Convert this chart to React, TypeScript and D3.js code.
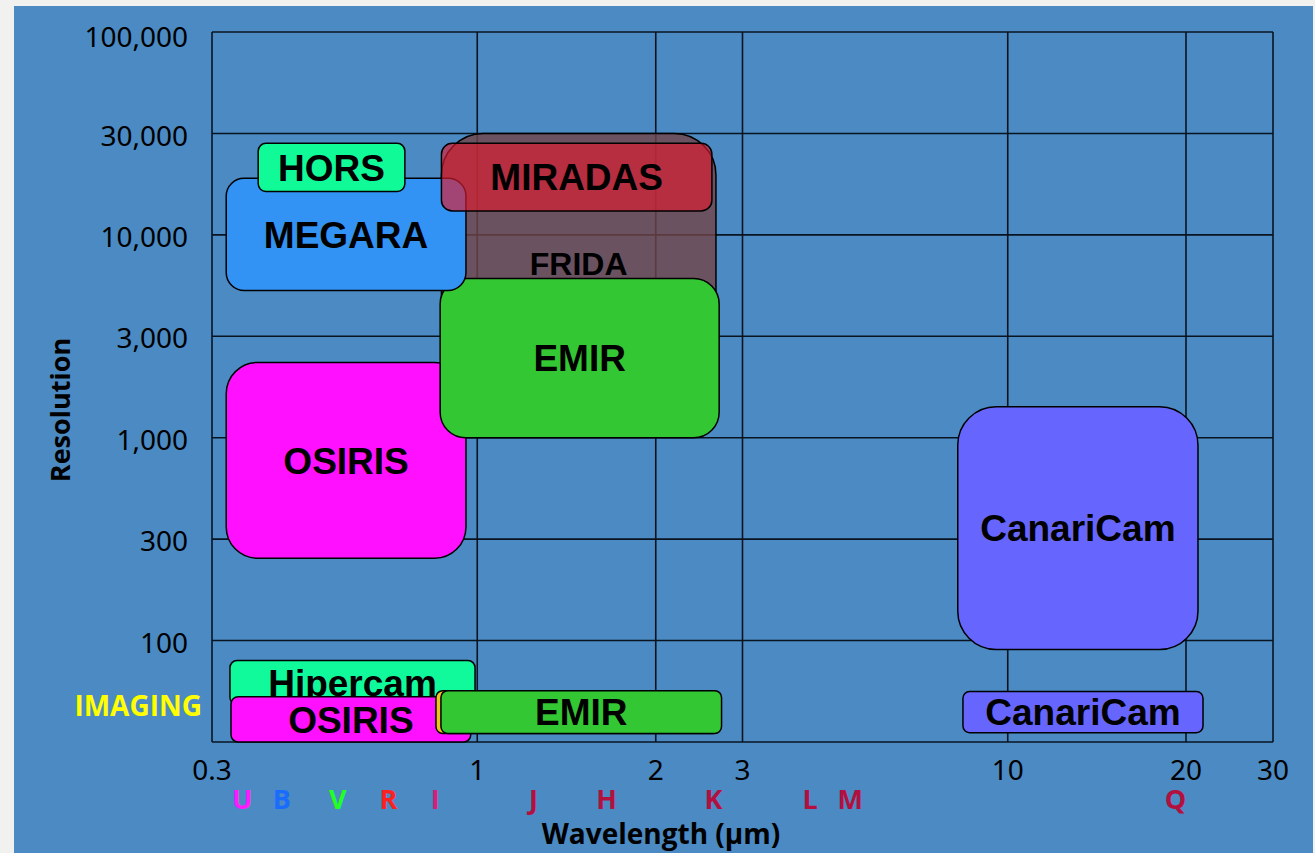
import React from 'react'
import * as d3 from 'd3'

// axis ticks (the chart spaces them evenly, 2 and 20 sit at ~2/3 of their gap)
const xTicks = [0.3, 1, 2, 3, 10, 20, 30]
const xTickSlots = [0, 1, 1.673, 2, 3, 3.672, 4]
const yTicks = [100000, 30000, 10000, 3000, 1000, 300, 100, 30]
const yTickLabels = ['100,000', '30,000', '10,000', '3,000', '1,000', '300', '100', '']

// spectroscopy instruments (drawing order)
const specNames = ['FRIDA', 'OSIRIS', 'EMIR', 'MEGARA', 'HORS', 'MIRADAS', 'CanariCam']
const specWlMin = [0.85, 0.32, 0.845, 0.32, 0.37, 0.85, 7.97]
const specWlMax = [2.65, 0.95, 2.69, 0.95, 0.72, 2.6, 21.15]
const specRMin = [1600, 244, 1000, 5160, 16000, 12950, 90]
const specRMax = [30000, 2260, 5950, 18480, 26940, 26940, 1400]
const specColors = ['#724347', '#ff10ff', '#33c733', '#3393f5', '#10fa98', '#de1c30', '#6666ff']
const specOpacity = [0.8, 1, 1, 1, 1, 0.65, 1]

// imaging row, below R = 100
const imgNames = ['Hipercam', 'OSIRIS', '', 'EMIR', 'CanariCam']
const imgWlMin = [0.3255, 0.327, 0.829, 0.848, 8.16]
const imgWlMax = [0.99, 0.971, 2.7, 2.72, 21.65]
const imgRMin = [46.8, 30, 33.2, 33.2, 33.5]
const imgRMax = [78.9, 51.4, 55.2, 55.2, 54.6]
const imgColors = ['#10fa9c', '#ff10ff', '#f2c21c', '#33c733', '#6666ff']

// photometric bands under the x axis
const bandNames = ['U', 'B', 'V', 'R', 'I', 'J', 'H', 'K', 'L', 'M', 'Q']
const bandWl = [0.344, 0.412, 0.531, 0.668, 0.826, 1.244, 1.653, 2.62, 4.08, 4.89, 19.2]
const bandColors = ['#ff1aff', '#1a6cff', '#22ff22', '#ff2020', '#d42078', '#b3103f', '#b3103f', '#b3103f', '#b3103f', '#b3103f', '#b3103f']

const W = 1315, H = 853
const left = 212, right = 1273, top = 32, bottom = 742

const App = () => {
    const xStep = (right - left) / 4
    const xs = d3.scaleLinear().domain(xTicks.map(Math.log10)).range(xTickSlots.map(s => left + s * xStep))
    const ys = d3.scaleLinear().domain(yTicks.map(Math.log10)).range(yTicks.map((_, i) => top + i * (bottom - top) / 7))
    const x = (v: number) => xs(Math.log10(v))
    const y = (v: number) => ys(Math.log10(v))

    const box = (name: string, a: number, b: number, lo: number, hi: number, fill: string, op: number, key: string) => {
        const x0 = x(a), x1 = x(b), y0 = y(hi), y1 = y(lo)
        const w = x1 - x0, h = y1 - y0
        const r = Math.min(w, h) * 0.16
        return (
            <g key={key}>
                <rect x={x0} y={y0} width={w} height={h} rx={r} ry={r}
                    fill={fill} fillOpacity={op} stroke="#000" strokeWidth={1.5} />
                {name && <text x={(x0 + x1) / 2} y={(y0 + y1) / 2} dy="0.36em" textAnchor="middle"
                    style={{ fontFamily: 'Liberation Sans, Arial, sans-serif', fontWeight: 'bold', fontSize: name === 'FRIDA' ? 32 : 37 }}>{name}</text>}
            </g>
        )
    }

    const tickFont = { fontFamily: 'Noto Sans, Open Sans, sans-serif', fontSize: 28 }
    const boldFont = { fontFamily: 'Open Sans, Noto Sans, sans-serif', fontWeight: 'bold' }

    return (
        <div style={{ position: 'absolute', left: 0, top: 0 }}>
            <svg width={W} height={H} style={{ display: 'block' }}>
                <rect x={0} y={0} width={W} height={H} fill="#f1f1f0" />
                <rect x={14} y={6} width={W - 16} height={H - 6} fill="#4b8ac3" />

                {/* grid */}
                {xTicks.map(t => (
                    <line key={'gx' + t} x1={x(t)} x2={x(t)} y1={top} y2={bottom} stroke="#0a1420" strokeWidth={1.6} />
                ))}
                {yTicks.map(t => (
                    <line key={'gy' + t} x1={left} x2={right} y1={y(t)} y2={y(t)} stroke="#0a1420" strokeWidth={1.6} />
                ))}

                {/* tick labels */}
                {yTicks.map((t, i) => (
                    <text key={'ly' + t} x={188} y={y(t) + (i === 0 ? 5 : 2)} dy="0.36em" textAnchor="end" style={tickFont}>{yTickLabels[i]}</text>
                ))}
                {xTicks.map(t => (
                    <text key={'lx' + t} x={x(t)} y={770} dy="0.36em" textAnchor="middle" style={tickFont}>{String(t)}</text>
                ))}

                {/* instruments */}
                {specNames.map((n, i) => box(n, specWlMin[i], specWlMax[i], specRMin[i], specRMax[i], specColors[i], specOpacity[i], 's' + i))}
                {imgNames.map((n, i) => box(n, imgWlMin[i], imgWlMax[i], imgRMin[i], imgRMax[i], imgColors[i], 1, 'i' + i))}

                {/* bands */}
                {bandNames.map((b, i) => (
                    <text key={'b' + b} x={x(bandWl[i])} y={799} dy="0.36em" textAnchor="middle" fill={bandColors[i]}
                        style={{ ...boldFont, fontSize: 27 }}>{b}</text>
                ))}

                <text x={202} y={706} dy="0.36em" textAnchor="end" fill="#ffff00"
                    style={{ ...boldFont, fontSize: 28 }}>IMAGING</text>

                <text x={661} y={834} dy="0.36em" textAnchor="middle"
                    style={{ ...boldFont, fontSize: 28 }}>Wavelength (µm)</text>
                <text transform={`translate(60,${(top + bottom) / 2 + 23}) rotate(-90)`} dy="0.36em" textAnchor="middle"
                    style={{ ...boldFont, fontSize: 27 }}>Resolution</text>
            </svg>
        </div>
    )
}

export default App
